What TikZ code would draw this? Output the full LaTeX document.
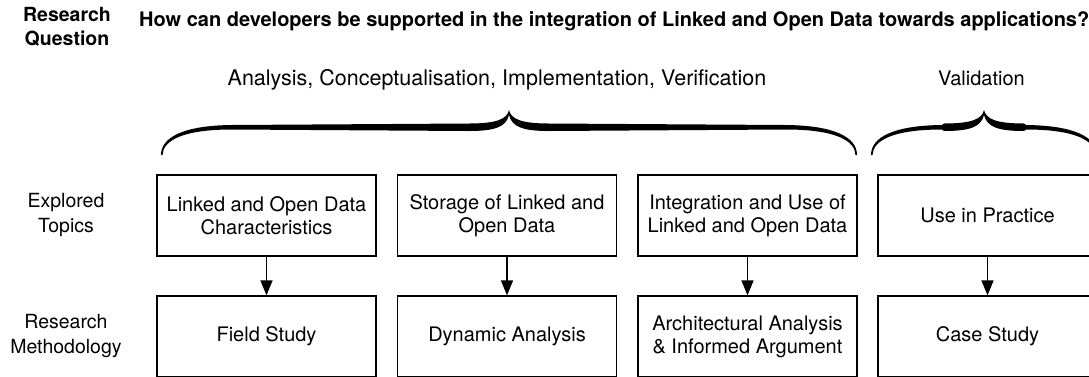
\documentclass[tikz,border=0pt]{standalone}
\usepackage{fontspec}
\setmainfont{TeX Gyre Heros}
\usetikzlibrary{arrows.meta}

% thick curly brace over a group of topics, ends at y=155
\newcommand{\phasebrace}[2]{%
  \pgfmathsetmacro{\bmid}{(#1+#2)/2}%
  \fill ({#1-1},155) .. controls ({#1-1},137) and ({#1+22},125.5) .. ({#1+70},125)
    -- ({\bmid-40},123.5) .. controls ({\bmid-12},123.5) and ({\bmid-2},119) .. (\bmid,110)
    .. controls ({\bmid+2},119) and ({\bmid+12},123.5) .. ({\bmid+40},123.5)
    -- ({#2-70},125) .. controls ({#2-22},125.5) and ({#2+1},137) .. ({#2+1},155)
    -- ({#2-0.5},155) .. controls ({#2-1},140) and ({#2-22},129.5) .. ({#2-70},129.5)
    -- ({\bmid+40},131) .. controls ({\bmid+14},131) and ({\bmid+3},127) .. (\bmid,115)
    .. controls ({\bmid-3},127) and ({\bmid-14},131) .. ({\bmid-40},131)
    -- ({#1+70},129.5) .. controls ({#1+22},129.5) and ({#1+1},140) .. ({#1+0.5},155) -- cycle;}

\begin{document}
\begin{tikzpicture}
[x=1pt,y=-1pt,every node/.style={inner sep=0pt,align=center},
 topic/.style={draw,line width=1.3pt,minimum width=219pt,minimum height=81pt,font=\fontsize{20}{23}\selectfont},
 side/.style={font=\fontsize{19.5}{25}\selectfont}]
\useasboundingbox (0,0) rectangle (1089,376);
% question
\node[font=\bfseries\fontsize{19.5}{24}\selectfont] (rq) at (67,27) {Research\\Question};
\node[font=\bfseries\fontsize{20}{24}\selectfont,anchor=base west] (q) at (139,26)
  {How can developers be supported in the integration of Linked and Open Data towards applications?};
% phases
\node[font=\fontsize{21.5}{25}\selectfont,anchor=base] (phase) at (497,85) {Analysis, Conceptualisation, Implementation, Verification};
\node[font=\fontsize{20}{25}\selectfont,anchor=base] (valid) at (981.5,85) {Validation};
\phasebrace{162}{856}
\phasebrace{872}{1096}
% rows
\node[side] (topics) at (66,215.5) {Explored\\Topics};
\node[side] (method) at (66,336.5) {Research\\Methodology};
\node[topic] (t1) at (266.5,215.5) {Linked and Open Data\\Characteristics};
\node[topic] (t2) at (507,215.5) {Storage of Linked and\\Open Data};
\node[topic] (t3) at (747.5,215.5) {Integration and Use of\\Linked and Open Data};
\node[topic] (t4) at (987.5,215.5) {Use in Practice};
\node[topic] (m1) at (266.5,336.5) {Field Study};
\node[topic] (m2) at (507,336.5) {Dynamic Analysis};
\node[topic] (m3) at (747.5,336.5) {Architectural Analysis\\\& Informed Argument};
\node[topic] (m4) at (987.5,336.5) {Case Study};
\foreach \from/\to in {t1/m1,t2/m2,t3/m3,t4/m4}
	\draw[-{Triangle[length=15pt,width=12pt]},line width=1.3pt] (\from) -- (\to);
\end{tikzpicture}
\end{document}
